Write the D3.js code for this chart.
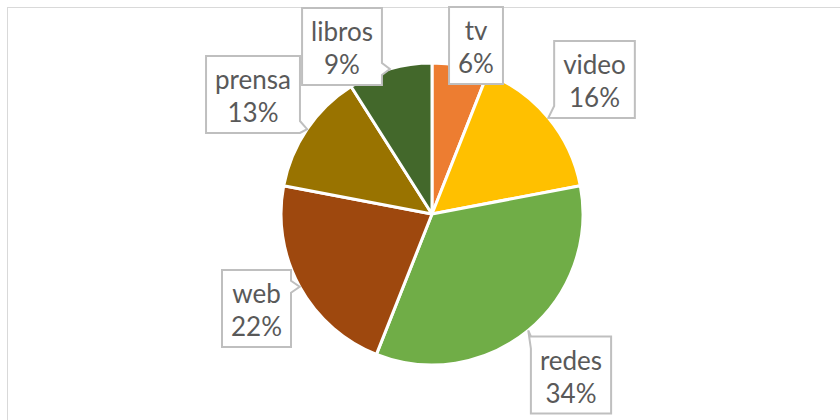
<!DOCTYPE html>
<html lang="es">
<head>
  <meta charset="UTF-8">
  <title>Pie chart - medios</title>
  <script src="https://d3js.org/d3.v7.min.js"></script>
  <style>
    body { margin: 0; background: #fff; font-family: Lato, "Open Sans", sans-serif; }
    .lbl text { fill: #595959; font-size: 26px; text-anchor: middle; }
    .lbl path { fill: #fff; stroke: #bfbfbf; stroke-width: 2; }
  </style>
</head>
<body>
  <div id="chart"></div>
  <script>
    // data
    const categories = ["tv", "video", "redes", "web", "prensa", "libros"];
    const values = [6, 16, 34, 22, 13, 9];
    const colors = ["#ED7D31", "#FFC000", "#70AD47", "#9E480E", "#997300", "#43682B"];

    // label box centres (manual placement, like the original)
    const labelPos = [[476, 45.5], [594.5, 79.5], [571, 375], [256.5, 308.5], [253, 94.5], [342, 46.5]];

    const W = 840, H = 420;
    const cx = 432, cy = 214, r = 151;
    const boxH = 77, pad = 9;

    const svg = d3.select("#chart").append("svg")
      .attr("width", W)
      .attr("height", H);

    // chart area border
    svg.append("rect")
      .attr("x", 7.5).attr("y", 7.5)
      .attr("width", W).attr("height", H)
      .attr("fill", "none")
      .attr("stroke", "#d9d9d9");

    const total = d3.sum(values);
    const pct = d3.format(".0%");

    const pie = d3.pie().sort(null).value(d => d)(values);
    const arc = d3.arc().innerRadius(0).outerRadius(r);
    const tipArc = d3.arc().innerRadius(r).outerRadius(r);

    const g = svg.append("g").attr("transform", `translate(${cx},${cy})`);

    g.selectAll("path.slice")
      .data(pie)
      .enter()
      .append("path")
      .attr("class", "slice")
      .attr("d", arc)
      .attr("fill", (d, i) => colors[i])
      .attr("stroke", "#fff")
      .attr("stroke-width", 3)
      .attr("stroke-linejoin", "round");

    // callout labels
    const labels = svg.selectAll("g.lbl")
      .data(pie)
      .enter()
      .append("g")
      .attr("class", "lbl");

    labels.each(function(d, i) {
      const lg = d3.select(this);
      const path = lg.append("path");
      const [bx, by] = labelPos[i];
      const t1 = lg.append("text").attr("x", bx).attr("y", by - boxH / 2 + 33).text(categories[i]);
      const t2 = lg.append("text").attr("x", bx).attr("y", by - boxH / 2 + 66).text(pct(values[i] / total));
      const tw = Math.max(t1.node().getComputedTextLength(), t2.node().getComputedTextLength());
      const x0 = bx - tw / 2 - pad, x1 = bx + tw / 2 + pad;
      const y0 = by - boxH / 2, y1 = by + boxH / 2;

      const c = tipArc.centroid(d);
      const tx = c[0] + cx, ty = c[1] + cy;
      const clamp = (v, lo, hi) => Math.max(lo, Math.min(hi, v));
      let p;
      if (tx > x1) {
        const m = clamp(ty, y0 + 6, y1 - 6);
        p = `M${x0},${y0}L${x1},${y0}L${x1},${m - 6}L${tx},${ty}L${x1},${m + 6}L${x1},${y1}L${x0},${y1}Z`;
      } else if (tx < x0) {
        const m = clamp(ty, y0 + 6, y1 - 6);
        p = `M${x0},${y0}L${x1},${y0}L${x1},${y1}L${x0},${y1}L${x0},${m + 6}L${tx},${ty}L${x0},${m - 6}Z`;
      } else if (ty > y1) {
        const m = clamp(tx, x0 + 6, x1 - 6);
        p = `M${x0},${y0}L${x1},${y0}L${x1},${y1}L${m + 6},${y1}L${tx},${ty}L${m - 6},${y1}L${x0},${y1}Z`;
      } else if (ty < y0) {
        const m = clamp(tx, x0 + 6, x1 - 6);
        p = `M${x0},${y0}L${m - 6},${y0}L${tx},${ty}L${m + 6},${y0}L${x1},${y0}L${x1},${y1}L${x0},${y1}Z`;
      } else {
        p = `M${x0},${y0}L${x1},${y0}L${x1},${y1}L${x0},${y1}Z`;
      }
      path.attr("d", p);
    });
  </script>
</body>
</html>
